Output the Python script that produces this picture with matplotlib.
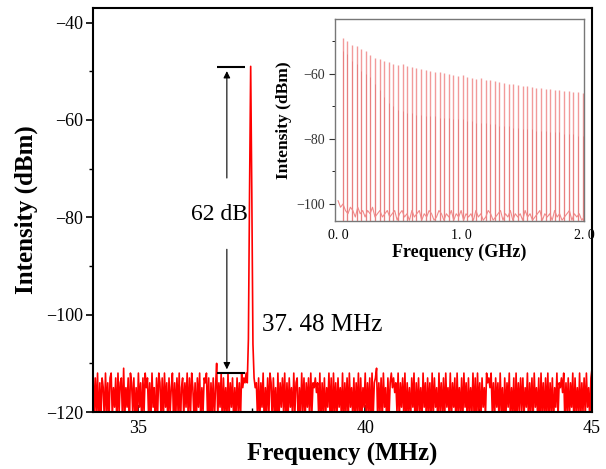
import numpy as np
import matplotlib
matplotlib.use("Agg")
import matplotlib.pyplot as plt
from matplotlib.ticker import MultipleLocator, FixedLocator

# ---------------- data ----------------
freq_start_mhz = 34.0
freq_step_mhz = 0.025
spectrum_dbm = [
    -111,-122,-113,-120,-112,-124,-114,-121,-113,-115,-122,-112,-120,-114,-123,-113,-112,-121,-115,-119,-113,
    -123,-112,-120,-114,-113,-122,-111,-121,-115,-119,-113,-124,-112,-114,-120,-113,-122,-115,-121,-112,-119,
    -114,-123,-113,-120,-112,-115,-113,-121,-114,-122,-112,-119,-115,-124,-113,-120,-112,-114,-121,-113,-122,
    -112,-119,-114,-123,-113,-120,-115,-112,-122,-114,-121,-113,-120,-112,-124,-115,-113,-121,-114,-119,-112,
    -122,-113,-120,-112,-115,-121,-114,-123,-113,-119,-112,-122,-115,-120,-113,-114,-112,-121,-113,-124,-114,
    -120,-113,-122,-115,-110,-121,-114,-119,-112,-123,-113,-120,-115,-122,-112,-121,-114,-119,-113,-122,-115,
    -121,-113,-120,-114,-122,-112,-115,-113,-114,-112,-114,-105,-75,-49,-75,-106,-113,-115,-114,-121,-113,
    -122,-114,-119,-112,-123,-115,-120,-113,-121,-112,-114,-122,-113,-120,-115,-124,-112,-121,-114,-119,-113,
    -120,-112,-123,-114,-121,-113,-119,-115,-122,-112,-120,-114,-113,-124,-115,-121,-112,-120,-113,-122,-114,
    -119,-113,-122,-112,-120,-114,-115,-113,-116,-114,-121,-112,-123,-114,-120,-113,-122,-115,-119,-112,-121,
    -113,-124,-112,-120,-114,-122,-113,-119,-115,-121,-112,-123,-114,-120,-113,-122,-112,-119,-115,-121,-113,
    -122,-114,-120,-112,-123,-113,-121,-115,-119,-112,-122,-114,-120,-113,-124,-112,-121,-114,-113,-111,-122,
    -114,-120,-113,-122,-112,-119,-115,-123,-113,-121,-114,-112,-115,-113,-116,-114,-120,-112,-122,-114,-119,
    -113,-121,-112,-123,-114,-120,-115,-122,-113,-119,-112,-124,-114,-121,-113,-120,-115,-122,-112,-119,-114,
    -123,-113,-120,-114,-122,-112,-121,-113,-119,-115,-123,-112,-120,-114,-121,-113,-122,-112,-119,-115,-121,
    -112,-122,-114,-119,-113,-124,-112,-120,-115,-121,-113,-122,-112,-119,-114,-123,-113,-120,-115,-121,-112,
    -121,-113,-123,-112,-120,-114,-122,-113,-119,-115,-121,-112,-114,-113,-115,-112,-120,-114,-122,-113,-119,
    -114,-122,-112,-120,-115,-123,-113,-121,-114,-119,-112,-122,-115,-120,-113,-124,-112,-121,-114,-120,-113,
    -120,-113,-121,-115,-119,-112,-123,-114,-120,-113,-122,-112,-119,-115,-121,-113,-124,-112,-120,-114,-122,
    -113,-121,-112,-122,-114,-120,-113,-123,-115,-119,-112,-121,-114,-115,-113,-116,-112,-122,-114,-120,-113,
    -122,-114,-119,-112,-123,-113,-120,-115,-121,-112,-122,-114,-120,-113,-121,-112,-119,-115,-122,-113,-111,
]

# inset: comb lines (GHz) every 37.48 MHz
comb_spacing_ghz = 0.03748
comb_peak_dbm = [
    -49.0, -49.8, -51.0, -51.5, -52.3, -53.0, -54.2, -55.0, -55.3, -56.0, -56.3, -56.8, -57.2, -57.0,
    -57.6, -58.0, -58.3, -58.5, -58.8, -59.0, -59.3, -59.5, -59.8, -60.0, -60.2, -60.5, -60.4, -60.9,
    -61.2, -61.5, -61.3, -61.8, -62.0, -62.2, -62.5, -62.8, -63.0, -63.1, -63.3, -63.6, -63.8, -64.0,
    -64.2, -64.3, -64.5, -64.6, -64.8, -65.0, -65.2, -65.4, -65.5, -65.7, -65.8,
]
comb_inner_dbm = [
    -53, -54, -56, -57, -59, -60, -61, -63, -65, -67, -69, -70, -71, -71.5,
    -72, -72, -72.5, -72.5, -73, -73, -73, -73.5, -73.5, -73.5, -74, -74, -74, -74.5,
    -74.5, -75, -75, -75, -75.5, -75.5, -76, -76, -76, -76.5, -76.5, -77, -77, -77,
    -77.5, -77.5, -77.5, -78, -78, -78, -78.5, -78.5, -78.5, -79, -79,
]
inset_floor_step_ghz = 0.02
inset_floor_dbm = [
    -99, -101, -100, -102, -103, -101, -102, -104, -101, -103, -102, -104, -102, -103, -101, -104,
    -103, -102, -104, -103, -102, -104, -103, -102, -105, -103, -102, -104, -103, -105, -102, -104,
    -103, -102, -105, -103, -104, -102, -103, -105, -104, -102, -103, -105, -103, -104, -102, -105,
    -103, -104, -102, -105, -103, -104, -103, -105, -102, -104, -103, -105, -104, -102, -103, -105,
    -104, -103, -102, -105, -103, -104, -102, -105, -103, -104, -103, -105, -102, -104, -103, -105,
    -104, -103, -102, -105, -103, -104, -103, -105, -102, -104, -103, -105, -104, -103, -102, -105,
    -103, -104, -103, -105, -104,
]

# ---------------- figure ----------------
plt.rcParams['font.family'] = ['Liberation Serif', 'DejaVu Serif']

fig = plt.figure(figsize=(6.06, 4.69), dpi=100)
ax = fig.add_axes([0.1535, 0.1215, 0.8235, 0.8615])

freq = freq_start_mhz + freq_step_mhz * np.arange(len(spectrum_dbm))
ax.plot(freq, spectrum_dbm, color='#ff0000', lw=1.2, zorder=2)

ax.set_xlim(34, 45)
ax.set_ylim(-120, -37)
ax.xaxis.set_major_locator(FixedLocator([35, 40, 45]))
ax.xaxis.set_minor_locator(MultipleLocator(2.5))
ax.yaxis.set_major_locator(MultipleLocator(20))
ax.yaxis.set_minor_locator(MultipleLocator(10))
ax.tick_params(axis='y', which='major', direction='out', length=5, width=1.2, labelsize=13, pad=2)
ax.tick_params(axis='y', which='minor', direction='out', length=3, width=1.0)
ax.tick_params(axis='x', which='major', direction='in', length=5, width=1.2, labelsize=13, pad=6)
ax.tick_params(axis='x', which='minor', direction='in', length=3, width=1.0)
for s in ax.spines.values():
    s.set_linewidth(1.5)
ax.set_yticklabels([f'\u2212{abs(int(v))}' for v in ax.get_yticks()])

ax.set_xlabel('Frequency (MHz)', fontsize=18, fontweight='bold', labelpad=4)
ax.set_ylabel('Intensity (dBm)', fontsize=18, fontweight='bold', labelpad=6)

# annotation of 62 dB
bar_x0, bar_x1 = 36.73, 37.35
arrow_x = 36.95
ax.hlines([-49.2, -112.0], bar_x0, bar_x1, color='black', lw=1.5, zorder=3)
ax.annotate('', xy=(arrow_x, -49.4), xytext=(arrow_x, -72.5),
            arrowprops=dict(arrowstyle='-|>', color='black', lw=0.8, mutation_scale=10))
ax.annotate('', xy=(arrow_x, -111.8), xytext=(arrow_x, -86.0),
            arrowprops=dict(arrowstyle='-|>', color='black', lw=0.8, mutation_scale=10))
ax.text(36.78, -79.5, '62 dB', fontsize=17, ha='center', va='center')
ax.text(37.72, -102.2, '37. 48 MHz', fontsize=18, ha='left', va='center')

# ---------------- inset ----------------
ins = fig.add_axes([0.553, 0.529, 0.411, 0.4305])
comb_f = comb_spacing_ghz * np.arange(1, len(comb_peak_dbm) + 1)
floor_f = inset_floor_step_ghz * np.arange(len(inset_floor_dbm))
ins.plot(floor_f, inset_floor_dbm, color='#f08a8a', lw=0.8, zorder=2)
ins.vlines(comb_f, -106, comb_peak_dbm, color='#f29a9a', lw=1.0, zorder=1)
ins.vlines(comb_f, -106, comb_inner_dbm, color='#e06666', lw=0.6, alpha=0.6, zorder=1)
ins.set_xlim(-0.024, 2.0)
ins.set_ylim(-105.2, -43.1)
ins.xaxis.set_major_locator(FixedLocator([0.0, 1.0, 2.0]))
ins.set_xticklabels(['0. 0', '1. 0', '2. 0'])
ins.yaxis.set_major_locator(MultipleLocator(20))
ins.yaxis.set_minor_locator(MultipleLocator(10))
ins.set_yticklabels([f'\u2212{abs(int(v))}' for v in ins.get_yticks()])
ins.tick_params(axis='y', which='major', direction='out', length=4, width=0.8, labelsize=10, colors='#333333')
ins.tick_params(axis='y', which='minor', direction='out', length=2, width=0.6)
ins.tick_params(axis='x', which='major', direction='in', length=0, labelsize=10, pad=6)
for s in ins.spines.values():
    s.set_color('#777777')
    s.set_linewidth(1.0)
ins.set_xlabel('Frequency (GHz)', fontsize=13, fontweight='bold', labelpad=1)
ins.set_ylabel('Intensity (dBm)', fontsize=12.5, fontweight='bold', labelpad=3)

fig.savefig('out.png', dpi=100)
